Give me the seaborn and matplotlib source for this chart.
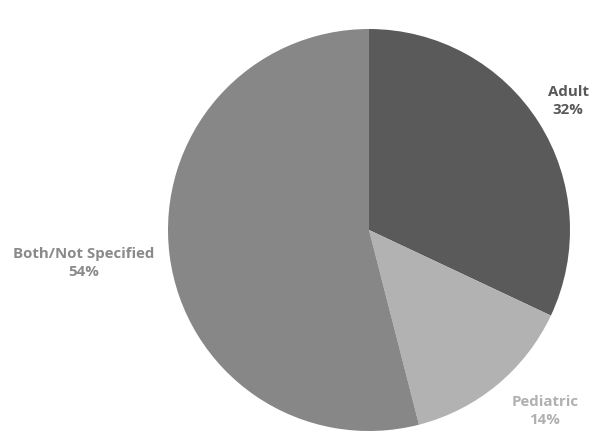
import matplotlib
matplotlib.use("Agg")
import matplotlib.pyplot as plt
import seaborn as sns

categories = ["Adult", "Pediatric", "Both/Not Specified"]
values = [32, 14, 54]
slice_colors = ["#5a5a5a", "#b2b2b2", "#878787"]
label_colors = ["#595959", "#b0b0b0", "#8a8a8a"]

sns.set_theme(style="white")
plt.rcParams['font.family'] = ['Open Sans', 'DejaVu Sans']

W, H = 591, 436
fig = plt.figure(figsize=(W/100, H/100), dpi=100)
cx, cy, r = 369, 230, 201
ax = fig.add_axes([(cx - r)/W, (H - cy - r)/H, 2*r/W, 2*r/H])
ax.pie(values, colors=slice_colors, startangle=90, counterclock=False,
       wedgeprops=dict(linewidth=0), radius=1.0)
ax.set_xlim(-1, 1)
ax.set_ylim(-1, 1)
ax.set_aspect('equal')
ax.axis('off')

label_pos = [(568, 101), (545, 411), (84, 263)]
for cat, val, col, (px, py) in zip(categories, values, label_colors, label_pos):
    fig.text(px/W, 1 - py/H, f"{cat}\n{val}%", ha="center", va="center",
             color=col, fontsize=10.8, fontweight="bold", linespacing=1.3)

fig.savefig("out.png", dpi=100)
